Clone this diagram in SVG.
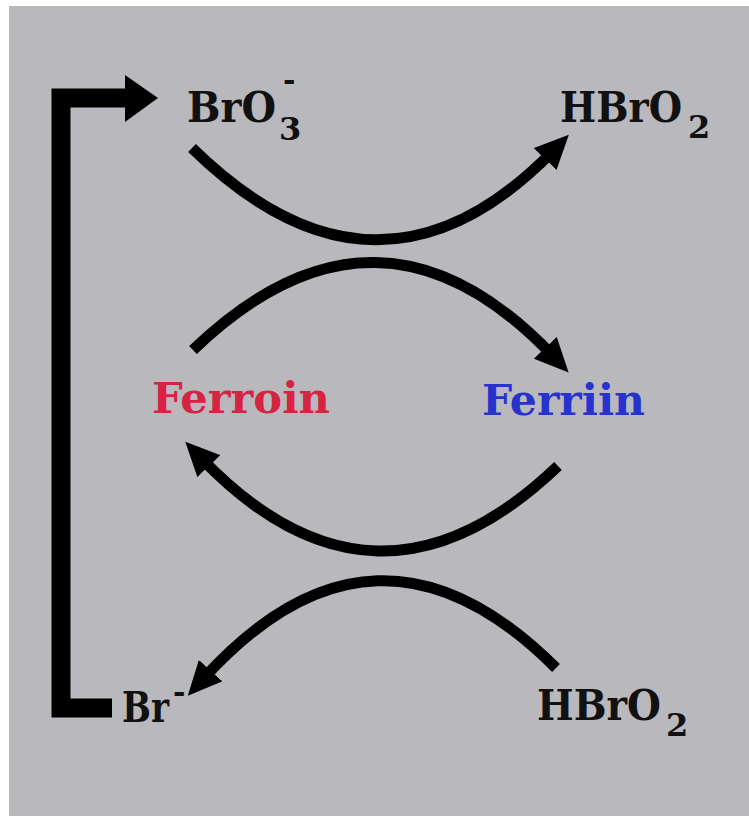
<svg xmlns="http://www.w3.org/2000/svg" width="749" height="816" viewBox="0 0 749 816">
  <style>
    .lbl { font-family: "DejaVu Serif", "Liberation Serif", serif; font-weight: bold; fill: #111; }
    .main { font-size: 42px; }
    .sub { font-size: 32px; }
    .sup { font-size: 30px; }
    .arc { fill: none; stroke: #000; stroke-width: 11; stroke-linecap: butt; }
  </style>
  <defs>
    <marker id="ah" markerUnits="userSpaceOnUse" markerWidth="34" markerHeight="32" viewBox="0 0 30 28" refX="10" refY="14" orient="auto">
      <path d="M0,0 L30,14 L0,28 Z" fill="#000"/>
    </marker>
  </defs>
  <rect x="0" y="0" width="749" height="816" fill="#ffffff"/>
  <rect x="9" y="6" width="740" height="810" fill="#b9b8bd"/>

  <g id="connectors">
    <path class="arc" d="M192,148 Q378,330 553,151" marker-end="url(#ah)"/>
    <path class="arc" d="M193,350 Q378,172 553,356" marker-end="url(#ah)"/>
    <path class="arc" d="M558,466 Q376,640 201,458" marker-end="url(#ah)"/>
    <path class="arc" d="M556,668 Q376,488 203,679" marker-end="url(#ah)"/>
    <path d="M112,708 H61 V98 H127" fill="none" stroke="#000" stroke-width="19" stroke-linejoin="miter"/>
    <path d="M125,75 L158,98 L125,122 Z" fill="#000"/>
  </g>

  <g id="node-bro3">
    <text class="lbl main" x="187" y="122" textLength="89" lengthAdjust="spacingAndGlyphs">BrO</text>
    <text class="lbl sub" x="279" y="140">3</text>
    <text class="lbl sup" x="283" y="90">-</text>
  </g>
  <g id="node-hbro2-top">
    <text class="lbl main" x="560" y="122" textLength="122" lengthAdjust="spacingAndGlyphs">HBrO</text>
    <text class="lbl sub" x="688" y="138">2</text>
  </g>
  <g id="node-ferroin">
    <text class="lbl main" x="152" y="413" textLength="178" lengthAdjust="spacingAndGlyphs" style="fill:#d42442">Ferroin</text>
  </g>
  <g id="node-ferriin">
    <text class="lbl main" x="482" y="415" textLength="163" lengthAdjust="spacingAndGlyphs" style="fill:#2633cc">Ferriin</text>
  </g>
  <g id="node-br">
    <text class="lbl main" x="122" y="722" textLength="47" lengthAdjust="spacingAndGlyphs">Br</text>
    <text class="lbl sup" x="173" y="702">-</text>
  </g>
  <g id="node-hbro2-bottom">
    <text class="lbl main" x="537" y="720" textLength="124" lengthAdjust="spacingAndGlyphs">HBrO</text>
    <text class="lbl sub" x="666" y="736">2</text>
  </g>
</svg>
